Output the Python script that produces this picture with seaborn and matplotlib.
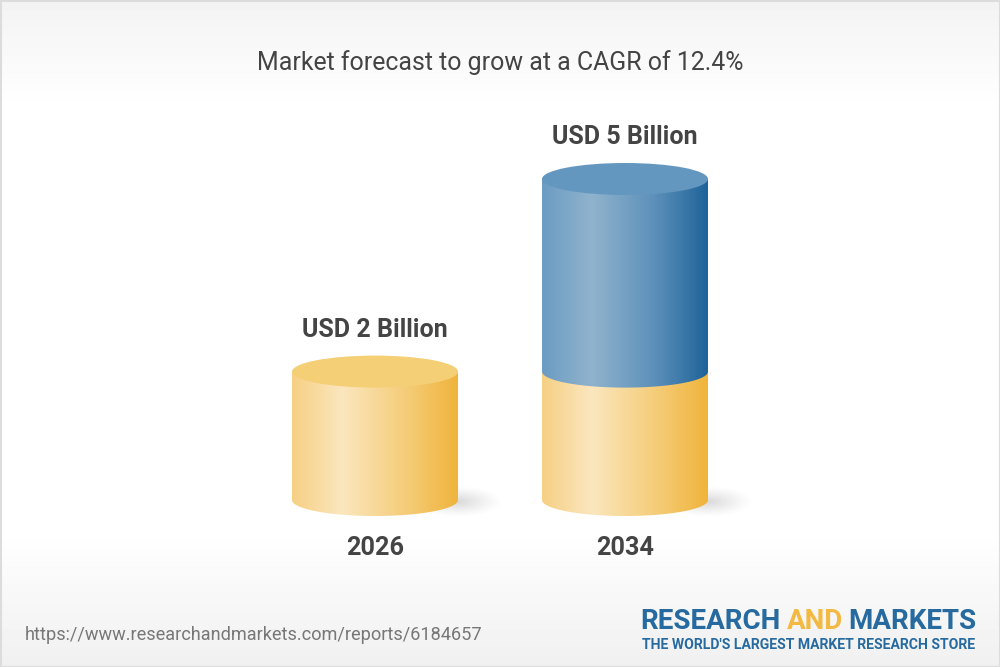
import numpy as np
import pandas as pd
import matplotlib
matplotlib.use("Agg")
import matplotlib.pyplot as plt
from matplotlib.colors import LinearSegmentedColormap
from matplotlib.patches import Ellipse, PathPatch, Rectangle
from matplotlib.path import Path
import seaborn as sns

years = ["2026", "2034"]
base_values = [2, 2]
total_values = [2, 5]
value_labels = ["USD 2 Billion", "USD 5 Billion"]
title_text = "Market forecast to grow at a CAGR of 12.4%"
url_text = "https://www.researchandmarkets.com/reports/6184657"

YELLOW = ["#F6D083", "#FBE6BE", "#F5CD7A", "#F0B43C"]
BLUE = ["#6B9CC3", "#90B3CD", "#5C90BA", "#1F6399"]
STOPS = [0, 0.3, 0.68, 1]
TEXT = "#444444"

sns.set_theme(style="white")
plt.rcParams["font.family"] = ["Roboto", "DejaVu Sans"]

W, H = 1000, 667
fig = plt.figure(figsize=(W / 100, H / 100), dpi=100, facecolor="white")

# background
bg = fig.add_axes([0, 0, 1, 1], zorder=0)
bg.set_axis_off()
bg.set_xlim(0, W)
bg.set_ylim(H, 0)
rows = np.arange(H)
shade = np.ones(H)
shade = np.where(rows < 110, 0.953 + (1 - 0.953) * rows / 110, shade)
shade = np.where(rows > 530, 1 - (1 - 0.94) * (rows - 530) / (H - 530), shade)
bg.imshow(shade[:, None], cmap="gray", vmin=0, vmax=1, extent=(0, W, H, 0), aspect="auto")
bg.add_patch(Rectangle((0.5, 0.5), W - 1, H - 1, fill=False, ec="#DCDCDC", lw=1.5))

# plot axes (pixel box chosen so the bar baseline sits at y=500)
PX_TOP, PX_BOTTOM, PX_BASE, PX_PER_UNIT = 90, 525, 500, 64.2
ax = fig.add_axes([0, 1 - PX_BOTTOM / H, 1, (PX_BOTTOM - PX_TOP) / H], zorder=1)
ax.patch.set_alpha(0)

df = pd.DataFrame({"year": years, "base": base_values, "total": total_values})
sns.barplot(data=df, x="year", y="total", color=BLUE[2], width=0.664, saturation=1, ax=ax)
sns.barplot(data=df, x="year", y="base", color=YELLOW[2], width=0.664, saturation=1, ax=ax)

xlim = (-1.5, 2.5)
ylim = (-(PX_BOTTOM - PX_BASE) / PX_PER_UNIT, (PX_BASE - PX_TOP) / PX_PER_UNIT)
RY = 16 / PX_PER_UNIT


def cyl_path(x0, x1, y0, y1):
    t = np.linspace(np.pi, 2 * np.pi, 80)
    cx, rx = (x0 + x1) / 2, (x1 - x0) / 2
    low = np.c_[cx + rx * np.cos(t), y0 + RY * np.sin(t)]
    high = np.array([[x1, y1], [x0, y1]])
    return Path(np.vstack([low, high, low[:1]]))


def gradient(colors):
    return LinearSegmentedColormap.from_list("g", list(zip(STOPS, colors)))


def cylinder(x0, x1, y0, y1, colors, z):
    img = ax.imshow(np.linspace(0, 1, 256)[None, :], cmap=gradient(colors), aspect="auto",
                    extent=(x0, x1, y0 - RY, y1), zorder=z, interpolation="bilinear")
    clip = PathPatch(cyl_path(x0, x1, y0, y1), transform=ax.transData, fc="none", ec="none")
    ax.add_patch(clip)
    img.set_clip_path(clip)


def shadow(x1, y0):
    # soft grey floor shadow to the right of each cylinder
    nx, ny = 120, 60
    xs = np.linspace(-1, 1, nx)
    ys = np.linspace(-1, 1, ny)
    d = np.sqrt(xs[None, :] ** 2 + ys[:, None] ** 2)
    rgba = np.zeros((ny, nx, 4))
    rgba[..., :3] = 0.5
    rgba[..., 3] = 0.30 * np.clip(1 - d, 0, 1) ** 1.2
    ax.imshow(rgba, aspect="auto", extent=(x1 - 0.18, x1 + 0.18, y0 - 0.26, y0 + 0.22), zorder=2)


total_bars = ax.containers[0].patches
base_bars = ax.containers[1].patches
for tb, bb in zip(total_bars, base_bars):
    x0, x1 = bb.get_x(), bb.get_x() + bb.get_width()
    cx = (x0 + x1) / 2
    base_top, top = bb.get_height(), tb.get_height()
    shadow(x1, 0)
    cylinder(x0, x1, 0, base_top, YELLOW, 3)
    if top > base_top:
        cylinder(x0, x1, base_top, top, BLUE, 4)
        lid = "#6497BF"
    else:
        lid = "#F5CF76"
    ax.add_patch(Ellipse((cx, top), x1 - x0, 2 * RY, fc=lid, ec="none", zorder=5))
    tb.set_visible(False)
    bb.set_visible(False)

for lbl, tb in zip(value_labels, total_bars):
    ax.annotate(lbl, (tb.get_x() + tb.get_width() / 2, tb.get_height()), xytext=(0, 42),
                textcoords="offset pixels", ha="center", va="center", fontsize=18,
                fontweight="bold", color=TEXT, zorder=6)

ax.set_xlim(*xlim)
ax.set_ylim(*ylim)
ax.set_xlabel("")
ax.set_ylabel("")
ax.set_yticks([])
ax.tick_params(axis="x", length=0, pad=8.2, labelsize=18.2, labelcolor=TEXT)
for t in ax.get_xticklabels():
    t.set_fontweight("bold")
sns.despine(ax=ax, left=True, bottom=True, top=True, right=True)
ax.set_title(title_text, fontsize=17.93, color=TEXT, pad=14.5, fontweight="normal")

# footer
fig.text(25 / W, 1 - 635 / H, url_text, fontsize=13.05, color="#777777", va="center", ha="left")
LOGO_BLUE, LOGO_GOLD = "#266AA0", "#F4B942"
for s, x, c in [("RESEARCH", 640, LOGO_BLUE), ("AND", 786.5, LOGO_GOLD), ("MARKETS", 848, LOGO_BLUE)]:
    fig.text(x / W, 1 - 621.5 / H, s, fontsize=20, fontweight="bold", color=c, va="center", ha="left")
fig.text(641.5 / W, 1 - 645 / H, "THE WORLD'S LARGEST MARKET RESEARCH STORE", fontsize=10.1,
         fontweight="bold", color=LOGO_BLUE, va="center", ha="left")

fig.savefig("out.png", dpi=100, facecolor="white")
